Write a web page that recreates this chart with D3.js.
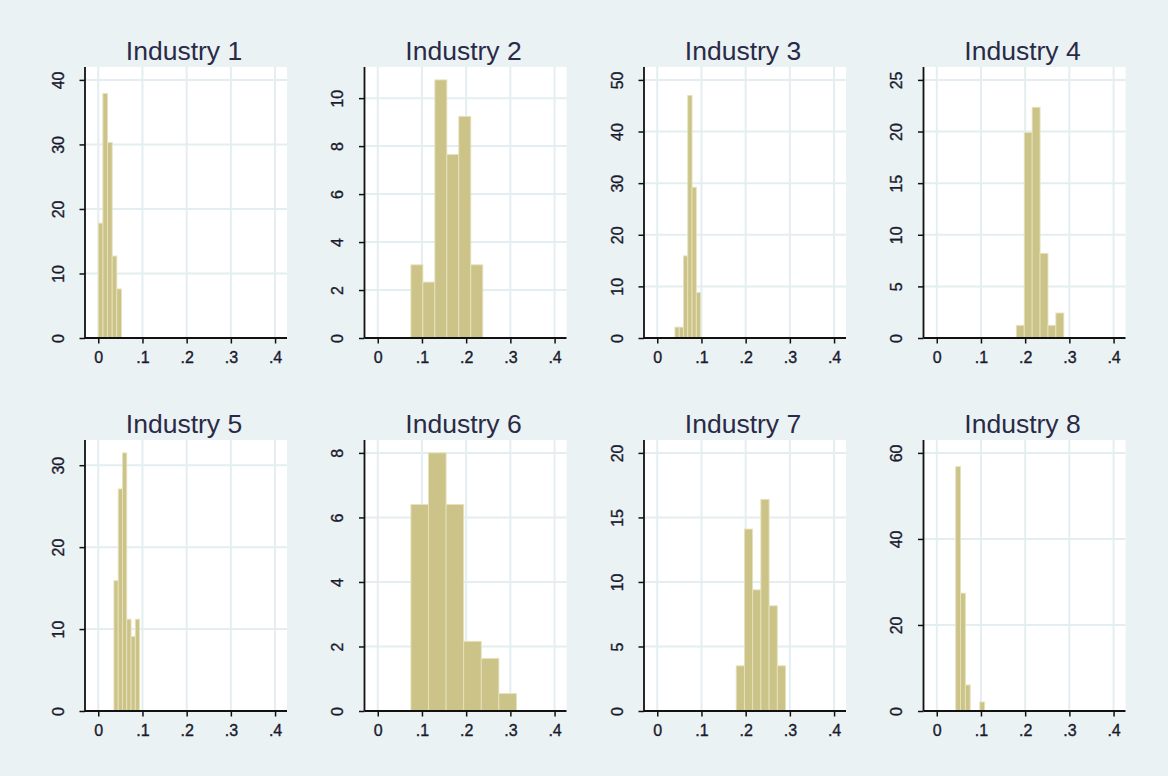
<!DOCTYPE html>
<html>
<head>
<meta charset="utf-8">
<script src="https://cdn.jsdelivr.net/npm/d3@7"></script>
<style>
  html, body { margin: 0; padding: 0; background: #eaf2f3; }
  svg { display: block; }
  text { font-family: "Liberation Sans", Arial, sans-serif; }
</style>
</head>
<body>
<svg id="chart" width="1168" height="776"></svg>
<script>
// ---- data (density histograms) ----
const titles = ["Industry 1", "Industry 2", "Industry 3", "Industry 4",
                "Industry 5", "Industry 6", "Industry 7", "Industry 8"];
const binStart = [0.000, 0.075, 0.040, 0.180, 0.0355, 0.075, 0.1786, 0.0429];
const binWidth = [0.0105, 0.0271, 0.00967, 0.0179, 0.00967, 0.0398, 0.0186, 0.0109];
const ind1 = [17.8, 37.9, 30.3, 12.7, 7.6];
const ind2 = [3.05, 2.33, 10.76, 7.65, 9.24, 3.05];
const ind3 = [2.1, 2.1, 15.9, 47.0, 29.2, 8.8];
const ind4 = [1.23, 19.9, 22.35, 8.2, 1.23, 2.42];
const ind5 = [15.9, 27.1, 31.5, 11.2, 9.08, 11.2];
const ind6 = [6.4, 8.0, 6.4, 2.16, 1.63, 0.54];
const ind7 = [3.5, 14.1, 9.39, 16.4, 8.15, 3.5];
const ind8 = [56.8, 27.4, 6.05, 0, 0, 2.1];
const densities = [ind1, ind2, ind3, ind4, ind5, ind6, ind7, ind8];
const yTicks = [
  [0, 10, 20, 30, 40],
  [0, 2, 4, 6, 8, 10],
  [0, 10, 20, 30, 40, 50],
  [0, 5, 10, 15, 20, 25],
  [0, 10, 20, 30],
  [0, 2, 4, 6, 8],
  [0, 5, 10, 15, 20],
  [0, 20, 40, 60]
];
const xTicks = [0, 0.1, 0.2, 0.3, 0.4];
const xTickLabels = ["0", ".1", ".2", ".3", ".4"];

// ---- layout ----
const svg = d3.select("#chart");
const colLeft = [85, 364.5, 644, 923.5];
const rowTop = [67, 440];
const plotW = 202, plotH = 271;
const xDomain = [-0.030, 0.427];

const gridColor = "#e4eef0";
const barFill = "#cbc387";
const barStroke = "#e6e2bd";

titles.forEach((title, i) => {
  const col = i % 4, row = Math.floor(i / 4);
  const left = colLeft[col], top = rowTop[row];
  const g = svg.append("g").attr("transform", `translate(${left},${top})`);

  const x = d3.scaleLinear().domain(xDomain).range([0, plotW]);
  const vals = densities[i];
  const ticks = yTicks[i];
  const yMax = Math.max(d3.max(ticks), d3.max(vals)) * 1.05;
  const y = d3.scaleLinear().domain([0, yMax]).range([plotH, 0]);

  // plot region
  g.append("rect").attr("x", 0).attr("y", 0).attr("width", plotW).attr("height", plotH)
    .attr("fill", "#ffffff");

  // grid lines
  g.selectAll(".gy").data(ticks.filter(t => t > 0)).join("line")
    .attr("x1", 0).attr("x2", plotW)
    .attr("y1", d => y(d)).attr("y2", d => y(d))
    .attr("stroke", gridColor).attr("stroke-width", 2);
  g.selectAll(".gx").data(xTicks).join("line")
    .attr("x1", d => x(d)).attr("x2", d => x(d))
    .attr("y1", 0).attr("y2", plotH)
    .attr("stroke", gridColor).attr("stroke-width", 2);

  // bars
  const bins = vals.map((v, k) => ({
    x0: binStart[i] + k * binWidth[i],
    x1: binStart[i] + (k + 1) * binWidth[i],
    v: v
  })).filter(b => b.v > 0);
  g.selectAll(".bar").data(bins).join("rect")
    .attr("x", d => x(d.x0))
    .attr("width", d => x(d.x1) - x(d.x0))
    .attr("y", d => y(d.v))
    .attr("height", d => y(0) - y(d.v))
    .attr("fill", barFill)
    .attr("stroke", barStroke)
    .attr("stroke-width", 0.9);

  // x axis
  const xAxis = d3.axisBottom(x).tickValues(xTicks)
    .tickFormat((d, k) => xTickLabels[k]).tickSize(5.5).tickPadding(8);
  const gx = g.append("g").attr("transform", `translate(0,${plotH})`).call(xAxis);
  gx.select(".domain").attr("stroke", "#111").attr("stroke-width", 1.8)
    .attr("d", `M0,0H${plotW}`);
  gx.selectAll(".tick line").attr("stroke", "#111").attr("stroke-width", 1.5);
  gx.selectAll(".tick text").attr("font-size", 16).attr("fill", "#1a1a2e")
    .attr("stroke", "#1a1a2e").attr("stroke-width", 0.35)
    .attr("font-family", "Liberation Sans, Arial, sans-serif");

  // y axis
  const yAxis = d3.axisLeft(y).tickValues(ticks).tickFormat(d3.format("d"))
    .tickSize(5.5).tickPadding(0);
  const gy = g.append("g").call(yAxis);
  gy.select(".domain").attr("stroke", "#111").attr("stroke-width", 1.8)
    .attr("d", `M0,0V${plotH}`);
  gy.selectAll(".tick line").attr("stroke", "#111").attr("stroke-width", 1.5);
  gy.selectAll(".tick text")
    .attr("font-size", 16).attr("fill", "#1a1a2e")
    .attr("stroke", "#1a1a2e").attr("stroke-width", 0.35)
    .attr("font-family", "Liberation Sans, Arial, sans-serif")
    .attr("x", null).attr("dy", null)
    .attr("text-anchor", "middle")
    .attr("transform", "translate(-21.5,0) rotate(-90)");

  // title
  g.append("text")
    .attr("x", plotW / 2 - 2).attr("y", -7.5)
    .attr("text-anchor", "middle")
    .attr("font-size", 26.5)
    .attr("fill", "#2a2a48")
    .text(title);
});
</script>
</body>
</html>
